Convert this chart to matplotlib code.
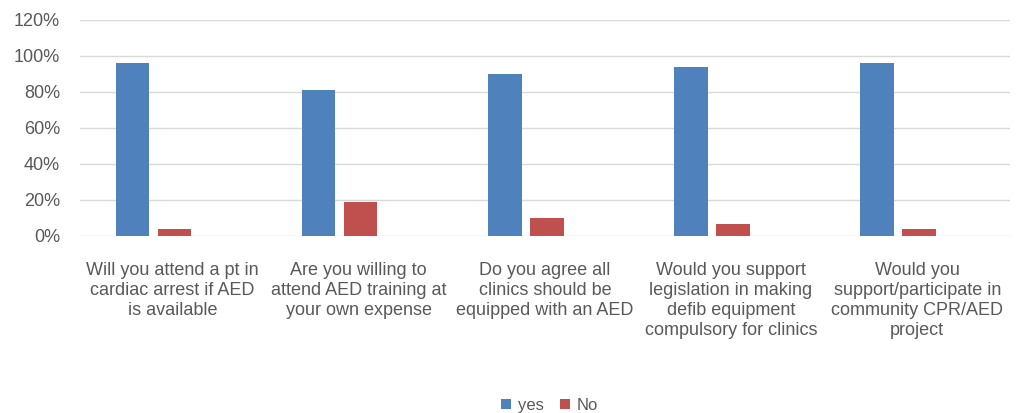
import numpy as np
import matplotlib.pyplot as plt
from matplotlib.ticker import PercentFormatter

# Datos
categorias = [
    "Will you attend a pt in\ncardiac arrest if AED\nis available",
    "Are you willing to\nattend AED training at\nyour own expense",
    "Do you agree all\nclinics should be\nequipped with an AED",
    "Would you support\nlegislation in making\ndefib equipment\ncompulsory for clinics",
    "Would you\nsupport/participate in\ncommunity CPR/AED\nproject",
]
si = [96, 81, 90, 94, 96]
no = [4, 19, 10, 6.5, 4]

AZUL = "#4F81BD"
ROJO = "#C0504D"
GRIS = "#595959"

plt.rcParams['font.family'] = ['Liberation Sans', 'DejaVu Sans']

fig = plt.figure(figsize=(10.33, 4.13), dpi=100)
ax = fig.add_axes([0.077, 0.429, 0.901, 0.523])

x = np.arange(len(categorias))
ancho = 0.18
ax.bar(x - 0.215, si, ancho, color=AZUL, label="yes")
ax.bar(x + 0.01, no, ancho, color=ROJO, label="No")

ax.set_xlim(-0.5, len(categorias) - 0.5)
ax.set_ylim(0, 120)
ax.set_yticks(np.arange(0, 121, 20))
ax.yaxis.set_major_formatter(PercentFormatter(decimals=0))
ax.grid(axis='y', color='#D9D9D9', linewidth=1)
ax.set_axisbelow(True)
for s in ax.spines.values():
    s.set_visible(False)
ax.tick_params(length=0, colors=GRIS)
ax.tick_params(axis='y', pad=14, labelsize=13)
ax.tick_params(axis='x', pad=19, labelsize=13)
ax.set_xticks(x)
ax.set_xticklabels(categorias, linespacing=1.22, va='top')

ax.legend(loc='lower center', bbox_to_anchor=(0.505, -0.89), ncol=2, frameon=False,
          handlelength=0.6, handleheight=0.6, handletextpad=0.4, columnspacing=1.0,
          labelcolor=GRIS, fontsize=12)

plt.savefig("out.png", dpi=100)
